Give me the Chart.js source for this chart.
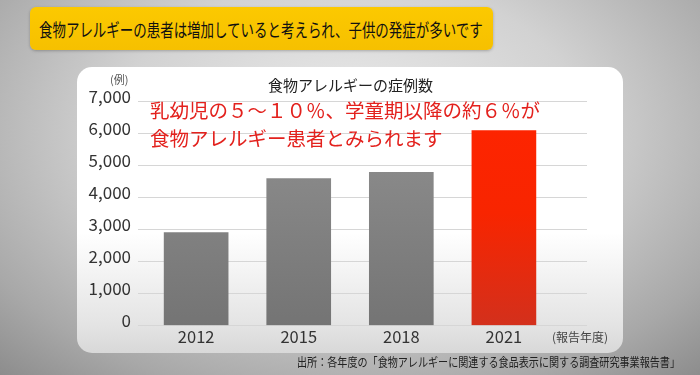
<!DOCTYPE html>
<html><head><meta charset="utf-8">
<script src="https://cdn.jsdelivr.net/npm/chart.js@4"></script>
<style>
html,body{margin:0;padding:0;width:700px;height:375px;overflow:hidden;}
body{position:relative;font-family:"Noto Sans CJK JP","Noto Sans",sans-serif;
background:radial-gradient(ellipse 75% 90% at 50% 35%, #ececec 0%, #d2d2d2 45%, #a8a8a8 80%, #8a8a8a 100%);}
.abs{position:absolute;white-space:nowrap;}
#banner{left:30px;top:7px;width:463px;height:43px;border-radius:6px;background:linear-gradient(#fcc900,#f6c000);box-shadow:0 1px 3px rgba(0,0,0,0.25);}
#bannerText{left:39px;top:29px;font-size:18.5px;color:#111;transform-origin:left center;line-height:1;}
#panel{left:77px;top:67px;width:546px;height:286px;border-radius:15px;background:linear-gradient(to bottom,#ffffff 0%,#ffffff 58%,#e4e4e4 90%,#d8d8d8 100%);}
#title{left:268px;top:84px;font-size:15px;color:#222;transform:translateY(-50%);line-height:1;}
#unit{left:110px;top:79px;font-size:11px;color:#555;transform:translateY(-50%);line-height:1;}
#xunit{left:552px;top:337px;font-size:12px;color:#444;transform:translateY(-50%);line-height:1;}
.red{left:150px;font-size:19.5px;color:#e3211d;line-height:1;transform:translateY(-50%);}
#source{left:297px;top:362px;font-size:12.5px;color:#222;line-height:1;transform-origin:left center;}
#c{position:absolute;left:0;top:0;}
</style></head>
<body>
<div id="banner" class="abs"></div>
<div id="bannerText" class="abs">食物アレルギーの患者は増加していると考えられ、子供の発症が多いです</div>
<div id="panel" class="abs"></div>
<canvas id="c" width="700" height="375"></canvas>
<div id="title" class="abs">食物アレルギーの症例数</div>
<div id="unit" class="abs">(例)</div>
<div id="xunit" class="abs">(報告年度)</div>
<div class="abs red" style="top:110px;">乳幼児の５〜１０％、学童期以降の約６％が</div>
<div class="abs red" style="top:138px;">食物アレルギー患者とみられます</div>
<div id="source" class="abs">出所：各年度の「食物アレルギーに関連する食品表示に関する調査研究事業報告書」</div>
<script>
const years = [2012, 2015, 2018, 2021];
const cases = [2900, 4590, 4790, 6090];
const highlight = [false, false, false, true];
const yTicks = [0, 1000, 2000, 3000, 4000, 5000, 6000, 7000];

function fitWidth(id, target) {
  const el = document.getElementById(id);
  const w = el.offsetWidth;
  el.style.transform = 'translateY(-50%) scaleX(' + (target / w) + ')';
}
fitWidth('bannerText', 444);
fitWidth('source', 383);

function barFill(ctx) {
  const chart = ctx.chart;
  const area = chart.chartArea;
  if (!area) return '#888';
  const g = chart.ctx.createLinearGradient(0, area.top, 0, area.bottom);
  if (highlight[ctx.dataIndex]) {
    g.addColorStop(0, '#ff2400'); g.addColorStop(0.5, '#f82500'); g.addColorStop(1, '#d3301c');
  } else {
    g.addColorStop(0, '#929292'); g.addColorStop(1, '#747474');
  }
  return g;
}

new Chart(document.getElementById('c'), {
  type: 'bar',
  data: {
    datasets: [{
      data: years.map((y, i) => ({x: y, y: cases[i]})),
      backgroundColor: barFill,
      borderWidth: 0,
      barThickness: 64
    }]
  },
  options: {
    responsive: false,
    animation: false,
    events: [],
    layout: {padding: {left: 0, right: 113, top: 101.5, bottom: 0}},
    plugins: {legend: {display: false}, tooltip: {enabled: false}, title: {display: false}},
    scales: {
      x: {
        type: 'linear', min: 2010.3, max: 2023.43, offset: false,
        afterBuildTicks: s => { s.ticks = years.map(v => ({value: v})); },
        afterFit: s => { s.height = 49.5; },
        grid: {display: false, drawTicks: false},
        border: {display: false},
        ticks: {padding: 1, color: '#333', font: {family: '"Noto Sans CJK JP", sans-serif', size: 16.5},
          callback: v => String(v)}
      },
      y: {
        min: 0, max: 7000,
        afterBuildTicks: s => { s.ticks = yTicks.map(v => ({value: v})); },
        afterFit: s => { s.width = 138; },
        grid: {color: '#d6d6d6', lineWidth: 1, drawTicks: false},
        border: {display: false},
        ticks: {padding: 7, labelOffset: -5, color: '#333',
          font: {family: '"Noto Sans CJK JP", sans-serif', size: 17},
          callback: v => v.toLocaleString('en-US')}
      }
    }
  }
});
</script>
</body></html>
